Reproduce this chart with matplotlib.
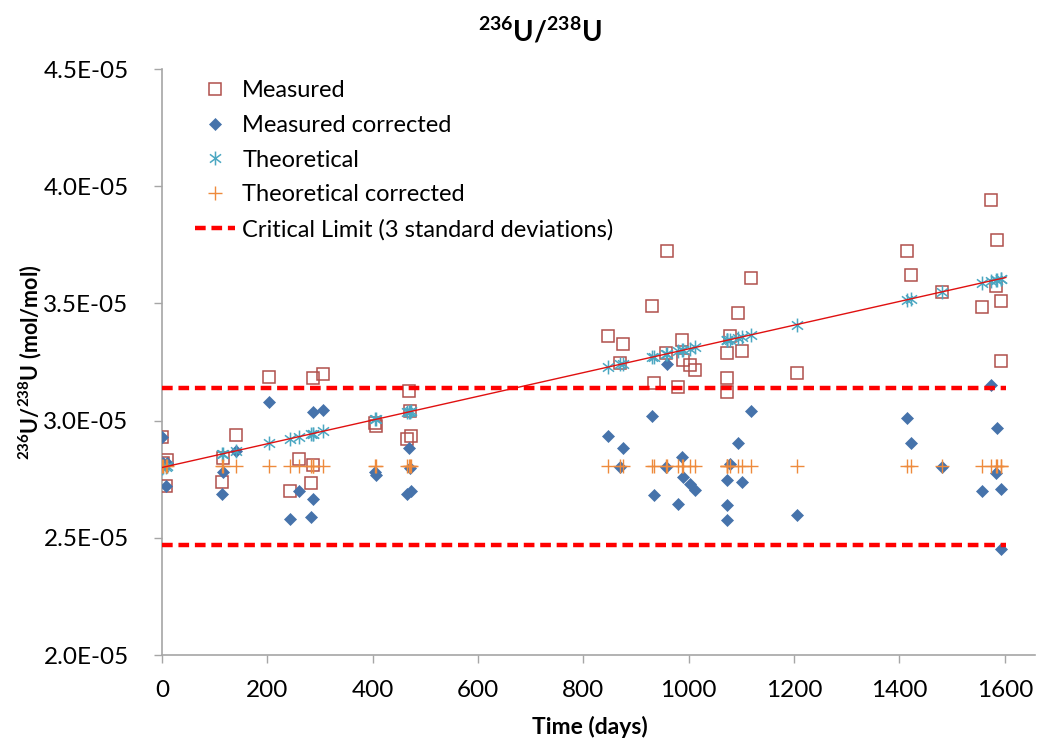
import numpy as np
import matplotlib
matplotlib.use("Agg")
import matplotlib.pyplot as plt
from matplotlib.path import Path
from matplotlib.ticker import FuncFormatter, MultipleLocator

plt.rcParams['font.family'] = ['Lato', 'DejaVu Sans']
plt.rcParams['mathtext.fontset'] = 'custom'
plt.rcParams['mathtext.rm'] = 'Lato:bold'
plt.rcParams['mathtext.bf'] = 'Lato:bold'
plt.rcParams['mathtext.default'] = 'bf'

SCALE = 1e-5

days = [0, 2, 9, 8, 114, 115, 140, 204, 243, 260, 282, 287, 287, 305, 405, 406,
        466, 472, 468, 470,
        847, 869, 876, 931, 934, 957, 959, 980, 988, 990, 1002, 1011,
        1072, 1073, 1073, 1079, 1094, 1101, 1119, 1206,
        1414, 1421, 1480, 1557, 1573, 1584, 1585, 1592, 1592]

measured = [2.93, 2.82, 2.83, 2.72, 2.74, 2.84, 2.94, 3.185, 2.70, 2.835, 2.735, 2.81,
            3.18, 3.20, 2.99, 2.975, 2.92, 2.935, 3.125, 3.04,
            3.36, 3.245, 3.327, 3.49, 3.16, 3.287, 3.725, 3.142, 3.344, 3.26, 3.237, 3.216,
            3.183, 3.287, 3.12, 3.361, 3.46, 3.298, 3.607, 3.204,
            3.725, 3.621, 3.55, 3.486, 3.941, 3.574, 3.77, 3.51, 3.254]

measured_corrected = [2.93, 2.82, 2.82, 2.72, 2.685, 2.78, 2.87, 3.08, 2.58, 2.70, 2.59,
                      2.665, 3.035, 3.045, 2.78, 2.77, 2.685, 2.70, 2.885, 2.80,
                      2.935, 2.803, 2.882, 3.02, 2.684, 2.803, 3.24, 2.644, 2.843, 2.76,
                      2.728, 2.704,
                      2.64, 2.745, 2.578, 2.817, 2.906, 2.74, 3.04, 2.597,
                      3.01, 2.903, 2.803, 2.70, 3.15, 2.775, 2.968, 2.707, 2.451]

theoretical = [2.80, 2.801, 2.805, 2.804, 2.858, 2.858, 2.871, 2.903, 2.923, 2.932,
               2.943, 2.945, 2.945, 2.954, 3.005, 3.005, 3.036, 3.039, 3.037, 3.038,
               3.229, 3.24, 3.243, 3.271, 3.273, 3.284, 3.285, 3.296, 3.30, 3.301,
               3.307, 3.312,
               3.342, 3.343, 3.343, 3.346, 3.354, 3.357, 3.366, 3.41,
               3.515, 3.519, 3.549, 3.588, 3.596, 3.602, 3.602, 3.606, 3.606]

theoretical_corrected = [2.805] * len(days)

critical_upper = 3.14
critical_lower = 2.468

x = np.array(days, dtype=float)
m = np.array(measured) * SCALE
mc = np.array(measured_corrected) * SCALE
th = np.array(theoretical) * SCALE
tc = np.array(theoretical_corrected) * SCALE

fig = plt.figure(figsize=(10.39, 7.43), dpi=100)
ax = fig.add_axes([0.1559, 0.1184, 0.996 - 0.1559, 0.9071 - 0.1184])

star = Path([(0, -1), (0, 1), (-0.8, -0.6), (0.8, 0.6), (-0.8, 0.6), (0.8, -0.6)],
            [Path.MOVETO, Path.LINETO, Path.MOVETO, Path.LINETO, Path.MOVETO, Path.LINETO])

c_meas = '#B0504C'
c_corr = '#4673AB'
c_theo = '#4BA7C2'
c_tcor = '#EE8A3C'

ax.plot(x, m, linestyle='none', marker='s', markersize=9, markerfacecolor='none',
        markeredgecolor=c_meas, markeredgewidth=1.1, label='Measured', zorder=3)
ax.plot(x, mc, linestyle='none', marker='D', markersize=6.2, markerfacecolor=c_corr,
        markeredgecolor=c_corr, markeredgewidth=0.5, label='Measured corrected', zorder=4)
ax.plot(x, th, linestyle='none', marker=star, markersize=10, markerfacecolor='none',
        markeredgecolor=c_theo, markeredgewidth=1.1, label='Theoretical', zorder=5)
ax.plot(x, tc, linestyle='none', marker='+', markersize=9.5, markeredgecolor=c_tcor,
        markeredgewidth=1.0, label='Theoretical corrected', zorder=6)

# linear trendline of the theoretical series
coef = np.polyfit(x, th, 1)
xl = np.array([0, x.max() + 10])
ax.plot(xl, np.polyval(coef, xl), color='#E01010', linewidth=1.0, zorder=7)

xs = [0, x.max() + 10]
ax.plot(xs, [critical_upper * SCALE] * 2, color='#FF0000', linewidth=3.2,
        linestyle=(0, (2.4, 1.3)), label='Critical Limit (3 standard deviations)', zorder=8)
ax.plot(xs, [critical_lower * SCALE] * 2, color='#FF0000', linewidth=3.2,
        linestyle=(0, (2.4, 1.3)), zorder=8)

ax.set_xlim(0, 1657)
ax.set_ylim(2.0e-5, 4.5e-5)
ax.xaxis.set_major_locator(MultipleLocator(200))
ax.yaxis.set_major_locator(MultipleLocator(0.5e-5))
ax.yaxis.set_major_formatter(FuncFormatter(lambda v, p: f"{v:.1E}"))

for s in ['top', 'right']:
    ax.spines[s].set_visible(False)
for s in ['left', 'bottom']:
    ax.spines[s].set_color('#A6A6A6')
    ax.spines[s].set_linewidth(1.2)
ax.tick_params(axis='both', direction='out', color='#A6A6A6', width=1.0, length=6,
               labelsize=17.5, labelcolor='black')
ax.tick_params(axis='y', pad=18)
ax.tick_params(axis='x', pad=12)

fig.text(0.52, 0.958, r'$^{236}$U/$^{238}$U', fontsize=20, fontweight='bold',
         ha='center', va='center')
fig.text(590 / 1039, 1 - 727 / 743, 'Time (days)', fontsize=16.5, fontweight='bold',
         ha='center', va='center')
fig.text(30 / 1039, 1 - 362 / 743, r'$^{236}$U/$^{238}$U (mol/mol)', fontsize=15.5,
         fontweight='bold', ha='center', va='center', rotation=90)

leg = ax.legend(loc='upper left', bbox_to_anchor=(0.0215, 1.005), frameon=False,
                fontsize=17, handlelength=1.7, handletextpad=0.3, labelspacing=0.58,
                borderaxespad=0.2)

fig.savefig('out.png', dpi=100)
